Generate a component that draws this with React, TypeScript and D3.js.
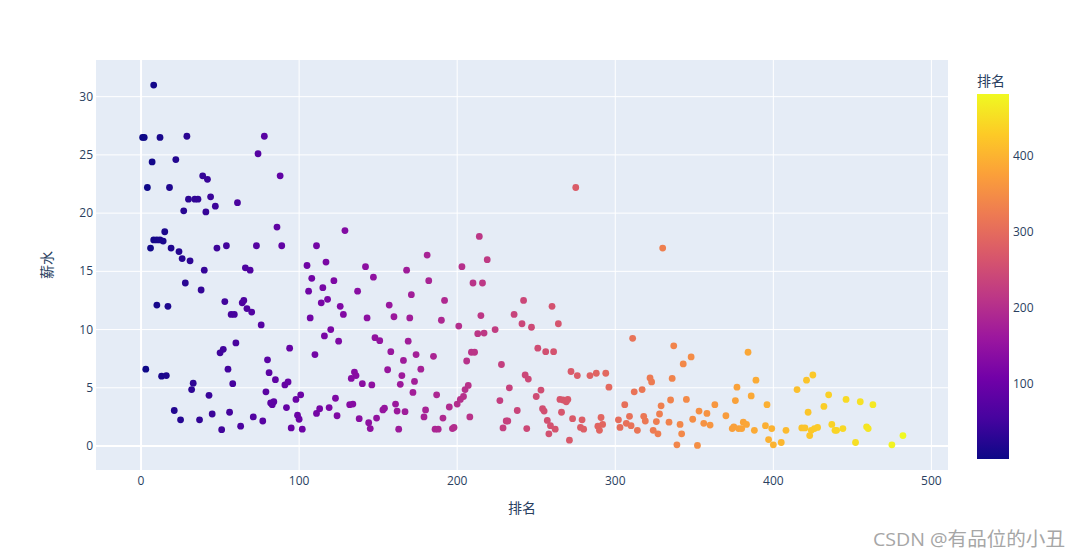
import React from "react";
import * as d3 from "d3";

// 排名 (rank) values and 薪水 (salary) values
const ranks: number[] = [
  1, 2, 8, 12, 29, 7, 22, 4, 18, 39, 42, 30, 34, 36, 44, 47, 27, 41, 61, 78, 74, 88, 86, 15, 8, 10, 12, 14, 6, 19, 24, 26, 31, 40, 48, 54, 73, 89, 111, 105, 66, 69,
  28, 38, 10, 17, 53, 64, 65, 67, 70, 57, 59, 76, 108, 106, 107, 60, 52, 50, 94, 110, 3, 13, 16, 55, 58, 80, 81, 85, 91, 93, 33, 32, 43, 79, 82, 84, 83, 101, 98, 92, 99, 100, 111, 21, 25, 37, 45, 56, 71, 77, 51, 63, 95, 102,
  129, 117, 142, 168, 181, 203, 214, 219,
  115, 122, 114, 118, 126, 128, 137, 147, 143, 157, 160, 170, 171, 182, 192, 190, 201, 210, 216, 215, 213, 217, 224, 236, 241, 242, 247, 120, 116, 125, 148, 151, 169, 158, 166, 174, 185, 177, 156, 165, 164, 173, 135, 136, 133, 140, 146, 172, 187, 123, 113, 119, 124, 132, 134, 138, 144, 145, 149, 153, 154, 161, 162, 167, 163, 179, 180, 191, 195, 186, 188, 197, 198, 200, 202, 204, 205, 207, 208, 206, 209, 211, 228, 243, 245, 233, 227, 238, 231, 232, 229, 244,
  330, 260, 264, 251, 256, 261, 272, 276, 284, 288, 294, 296, 253, 250, 265, 267, 270, 269, 254, 255, 266, 257, 259, 262, 258, 273, 279, 278, 280, 271, 291, 289, 292, 290, 302, 303, 307, 310, 314, 309, 306, 312, 317, 311, 322, 323, 318, 319, 326, 324, 327, 328, 329, 334, 335, 336, 337, 343, 348, 341, 342, 339, 345, 349, 353, 358, 356, 360, 352, 363, 370, 376, 377, 374, 375, 378,
  384, 389, 386, 396, 381, 383, 380, 388, 395, 399, 397, 400, 405, 408, 415, 421, 425, 422, 418, 420, 424, 423, 426, 428, 432, 435, 437, 439, 440, 444, 446, 452, 455, 459, 460, 463, 475, 482,
  275,
];

const salaries: number[] = [
  26.5, 26.5, 31.0, 26.5, 26.6, 24.4, 24.6, 22.2, 22.2, 23.2, 22.9, 21.2, 21.2, 21.2, 21.4, 20.6, 20.2, 20.1, 20.9, 26.6, 25.1, 23.2, 18.8, 18.4, 17.7, 17.7, 17.7, 17.6, 17.0, 17.0, 16.7, 16.1, 15.9, 15.1, 17.0, 17.2, 17.2, 17.2, 17.2, 15.5, 15.3, 15.1,
  14.0, 13.4, 12.1, 12.0, 12.4, 12.3, 12.5, 11.8, 11.5, 11.3, 11.3, 10.4, 14.4, 13.3, 11.0, 8.85, 8.3, 8.0, 8.4, 7.85, 6.6, 6.0, 6.05, 6.6, 5.35, 7.4, 6.3, 5.7, 5.25, 5.5, 5.4, 4.85, 4.35, 4.65, 3.7, 3.8, 3.55, 4.4, 4.0, 3.3, 2.65, 2.3, 2.8, 3.05, 2.25, 2.25, 2.75, 2.9, 2.5, 2.15, 1.4, 1.7, 1.55, 1.45,
  18.5, 15.8, 15.4, 15.1, 16.4, 15.4, 18.0, 16.0,
  13.6, 14.2, 12.3, 12.6, 12.0, 11.3, 13.3, 14.5, 11.0, 12.1, 11.1, 11.0, 13.0, 14.2, 12.5, 10.8, 10.3, 14.0, 14.0, 11.2, 9.65, 9.7, 10.0, 11.3, 10.5, 12.5, 10.2, 10.0, 9.45, 9.0, 9.3, 9.05, 9.0, 8.1, 7.35, 7.85, 7.7, 6.6, 6.55, 6.05, 5.3, 5.55, 6.35, 6.05, 5.8, 5.35, 5.25, 4.6, 4.4, 4.1, 3.2, 3.3, 2.6, 3.55, 3.6, 2.35, 2.0, 1.5, 2.4, 3.1, 3.25, 3.6, 3.0, 2.95, 1.45, 2.5, 3.1, 2.4, 3.35, 1.45, 1.45, 1.5, 1.6, 3.6, 4.0, 4.25, 4.85, 5.2, 2.5, 7.3, 8.05, 8.05, 7.0, 6.1, 5.75, 5.0, 3.9, 3.05, 2.15, 2.15, 1.55, 1.5,
  17.0, 12.0, 10.5, 8.4, 8.1, 8.1, 6.4, 6.05, 6.05, 6.25, 6.25, 5.05, 4.8, 4.25, 4.0, 3.95, 4.0, 3.8, 3.2, 3.0, 2.9, 2.2, 1.75, 1.45, 1.05, 2.35, 2.25, 1.6, 1.45, 0.5, 2.45, 1.7, 1.85, 1.35, 2.25, 1.6, 1.95, 1.75, 1.35, 2.55, 3.55, 4.65, 4.85, 9.25, 5.85, 5.5, 2.55, 2.15, 2.1, 1.35, 1.05, 2.75, 3.45, 2.05, 3.95, 5.8, 8.6, 7.05, 7.65, 1.85, 1.05, 0.1, 4.0, 2.3, 3.0, 2.8, 1.95, 1.8, 0.05, 3.55, 2.6, 3.9, 5.05, 1.5, 1.65, 1.5,
  8.05, 5.65, 4.3, 3.55, 2.05, 1.85, 1.5, 1.35, 1.75, 1.5, 0.55, 0.1, 0.3, 1.35, 4.85, 5.65, 6.1, 2.9, 1.55, 1.55, 1.35, 0.9, 1.5, 1.6, 3.4, 4.4, 1.85, 1.35, 1.35, 1.5, 4.0, 0.3, 3.8, 1.65, 1.5, 3.55, 0.1, 0.9,
  22.2,
];

const xTicks: number[] = [0, 100, 200, 300, 400, 500];
const yTicks: number[] = [0, 5, 10, 15, 20, 25, 30];
const cTicks: number[] = [100, 200, 300, 400];
const plasma: string[] = ["#0d0887", "#46039f", "#7201a8", "#9c179e", "#bd3786", "#d8576b", "#ed7953", "#fb9f3a", "#fdca26", "#f0f921"];

export default function App() {
  const W = 1079, H = 558;
  const L = 96, R = 948, T = 60, B = 470;
  const x = d3.scaleLinear().domain([-28.5, 510.5]).range([L, R]);
  const y = d3.scaleLinear().domain([-2.06, 33.15]).range([B, T]);
  const cMin = d3.min(ranks) as number, cMax = d3.max(ranks) as number;
  const interp = d3.interpolateRgbBasis(plasma);
  const color = (v: number) => interp((v - cMin) / (cMax - cMin));
  const cbX = 977, cbW = 32, cbTop = 94, cbBot = 459;
  const cy = d3.scaleLinear().domain([cMin, cMax]).range([cbBot, cbTop]);
  const font = "'Open Sans', 'Noto Sans CJK SC', sans-serif";
  const txt = "#2a3f5f";
  const pts = ranks.map((r, i) => ({ r, s: salaries[i] }));

  return (
    <svg width={W} height={H} style={{ display: "block", position: "absolute", left: 0, top: 0 }} fontFamily={font}>
      <defs>
        <linearGradient id="cb" x1="0" y1="1" x2="0" y2="0">
          {plasma.map((c, i) => (
            <stop key={i} offset={`${(i / (plasma.length - 1)) * 100}%`} stopColor={c} />
          ))}
        </linearGradient>
        <clipPath id="plotclip">
          <rect x={L} y={T} width={R - L} height={B - T} />
        </clipPath>
      </defs>
      <rect x={0} y={0} width={W} height={H} fill="#ffffff" />
      <rect x={L} y={T} width={R - L} height={B - T} fill="#e5ecf6" />
      {xTicks.map((t) => (
        <line key={"xg" + t} x1={x(t)} x2={x(t)} y1={T} y2={B} stroke="#ffffff" strokeWidth={t === 0 ? 2 : 1} />
      ))}
      {yTicks.map((t) => (
        <line key={"yg" + t} x1={L} x2={R} y1={y(t)} y2={y(t)} stroke="#ffffff" strokeWidth={t === 0 ? 2 : 1} />
      ))}
      <g clipPath="url(#plotclip)">
        {pts.map((p, i) => (
          <circle key={i} cx={x(p.r)} cy={y(p.s)} r={3.4} fill={color(p.r)} />
        ))}
      </g>
      {xTicks.map((t) => (
        <text key={"xt" + t} x={x(t)} y={485} textAnchor="middle" fontSize={12} fill={txt}>{t}</text>
      ))}
      {yTicks.map((t) => (
        <text key={"yt" + t} x={93} y={y(t) + 4} textAnchor="end" fontSize={12} fill={txt}>{t}</text>
      ))}
      <text x={(L + R) / 2} y={513} textAnchor="middle" fontSize={14} fill={txt}>排名</text>
      <text transform={`translate(52,${(T + B) / 2}) rotate(-90)`} textAnchor="middle" fontSize={14} fill={txt}>薪水</text>
      <rect x={cbX} y={cbTop} width={cbW} height={cbBot - cbTop} fill="url(#cb)" />
      {cTicks.map((t) => (
        <text key={"ct" + t} x={cbX + cbW + 4} y={cy(t) + 4} fontSize={12} fill={txt}>{t}</text>
      ))}
      <text x={cbX} y={86} fontSize={14} fill={txt}>排名</text>
      <text x={873} y={546} fontSize={19} fill="#a6a6a6" textLength={192} lengthAdjust="spacingAndGlyphs">CSDN @有品位的小丑</text>
    </svg>
  );
}
